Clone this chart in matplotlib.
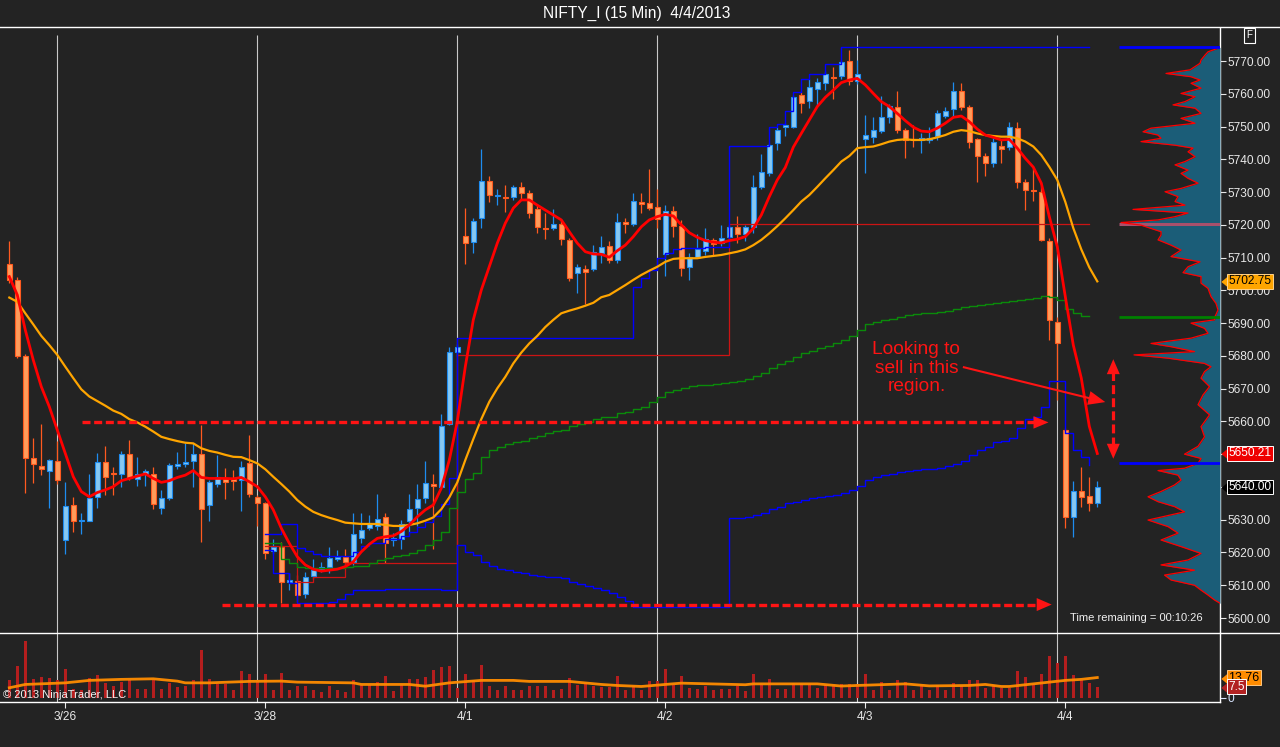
import numpy as np
import matplotlib
matplotlib.use("Agg")
import matplotlib.pyplot as plt
from matplotlib.patches import Polygon
from matplotlib.lines import Line2D
import matplotlib.transforms as mtransforms

plt.rcParams['font.family'] = ['Liberation Sans', 'DejaVu Sans']

# ------------------------------------------------------------------ data
opens = [5708.0, 5703.2, 5680.1, 5648.9, 5646.5, 5644.8, 5647.8, 5623.7, 5634.4, 5629.5,
 5629.7, 5636.8, 5647.5, 5644.2, 5643.8, 5650.0, 5642.3, 5644.0, 5644.1, 5633.5,
 5636.5, 5646.3, 5646.9, 5647.8, 5650.0, 5634.4, 5640.8, 5642.5, 5642.5, 5642.1,
 5647.2, 5637.0, 5635.0, 5620.6, 5621.8, 5611.0, 5611.3, 5607.2, 5612.8, 5614.9,
 5615.7, 5618.0, 5618.7, 5617.2, 5624.3, 5627.6, 5628.1, 5630.7, 5623.8, 5624.0,
 5629.7, 5633.7, 5636.5, 5640.8, 5640.1, 5659.1, 5681.1, 5716.6, 5714.7, 5722.0,
 5733.5, 5728.8, 5728.4, 5728.4, 5731.6, 5729.6, 5724.7, 5719.0, 5719.1, 5720.1,
 5715.4, 5705.2, 5706.4, 5706.4, 5711.3, 5713.6, 5709.3, 5721.0, 5720.2, 5727.1,
 5726.6, 5725.3, 5711.0, 5724.3, 5719.7, 5707.0, 5710.3, 5712.0, 5715.4, 5714.5,
 5716.2, 5719.2, 5717.2, 5719.4, 5731.6, 5735.9, 5744.9, 5750.0, 5750.0, 5759.5,
 5757.9, 5761.4, 5763.2, 5765.2, 5765.4, 5770.0, 5763.9, 5746.1, 5746.9, 5748.6,
 5752.8, 5756.1, 5748.9, 5746.3, 5745.9, 5745.9, 5747.1, 5753.3, 5755.3, 5760.8,
 5755.9, 5746.1, 5741.1, 5738.8, 5744.2, 5743.7, 5749.5, 5733.2, 5730.6, 5730.1,
 5715.1, 5690.3, 5657.4, 5630.9, 5638.8, 5637.2, 5635.0]
highs = [5715.1, 5704.0, 5680.5, 5654.8, 5659.1, 5648.5, 5654.0, 5641.4, 5637.0, 5632.0,
 5644.1, 5650.5, 5652.5, 5646.0, 5651.0, 5654.3, 5649.1, 5645.5, 5646.0, 5639.0,
 5647.2, 5650.8, 5653.5, 5653.5, 5658.9, 5642.0, 5649.8, 5645.7, 5645.2, 5648.0,
 5656.0, 5637.5, 5635.5, 5624.0, 5623.3, 5613.7, 5613.0, 5614.1, 5618.0, 5617.0,
 5621.8, 5620.8, 5621.0, 5632.2, 5632.0, 5631.5, 5637.7, 5632.0, 5626.0, 5630.0,
 5637.7, 5641.0, 5648.0, 5644.0, 5662.3, 5682.8, 5683.5, 5725.0, 5722.0, 5743.1,
 5734.9, 5731.0, 5732.2, 5732.2, 5733.2, 5730.6, 5726.0, 5723.5, 5724.7, 5721.5,
 5716.0, 5708.0, 5707.7, 5713.8, 5716.6, 5715.0, 5723.7, 5722.0, 5729.6, 5729.8,
 5737.0, 5730.8, 5726.0, 5725.7, 5721.5, 5711.5, 5717.2, 5718.9, 5716.0, 5720.0,
 5720.0, 5722.6, 5720.0, 5735.2, 5741.6, 5745.0, 5749.8, 5751.2, 5759.5, 5760.6,
 5764.4, 5764.9, 5767.0, 5768.1, 5770.3, 5773.4, 5770.3, 5753.5, 5752.8, 5759.3,
 5757.0, 5760.8, 5749.5, 5750.5, 5748.0, 5750.0, 5755.0, 5756.0, 5763.7, 5763.4,
 5756.5, 5746.5, 5742.0, 5746.4, 5746.0, 5751.5, 5751.5, 5734.0, 5737.2, 5732.0,
 5716.0, 5692.0, 5658.0, 5641.8, 5646.2, 5642.9, 5641.8]
lows = [5702.2, 5679.4, 5638.1, 5641.1, 5643.6, 5633.7, 5641.0, 5619.4, 5626.4, 5625.6,
 5629.5, 5633.7, 5637.5, 5637.5, 5639.9, 5642.0, 5640.3, 5640.3, 5633.4, 5631.7,
 5636.0, 5645.5, 5646.0, 5640.0, 5623.3, 5629.7, 5640.0, 5636.2, 5639.0, 5632.8,
 5637.0, 5628.0, 5618.0, 5619.5, 5604.7, 5608.5, 5605.0, 5606.2, 5612.0, 5614.0,
 5613.7, 5617.5, 5616.0, 5616.2, 5623.0, 5627.0, 5627.0, 5616.7, 5622.0, 5621.0,
 5626.0, 5628.0, 5635.0, 5621.0, 5640.0, 5659.0, 5680.0, 5708.0, 5711.5, 5719.1,
 5727.1, 5726.0, 5724.0, 5727.5, 5727.8, 5722.0, 5717.6, 5715.7, 5718.5, 5713.8,
 5702.9, 5699.1, 5695.8, 5706.0, 5708.3, 5708.3, 5708.3, 5717.4, 5719.5, 5723.5,
 5724.5, 5718.9, 5704.5, 5716.4, 5704.3, 5703.2, 5710.0, 5710.8, 5710.8, 5713.5,
 5715.0, 5714.4, 5715.0, 5717.6, 5731.0, 5735.0, 5742.8, 5747.1, 5749.5, 5754.2,
 5755.8, 5756.4, 5761.1, 5758.3, 5764.4, 5762.7, 5763.0, 5735.9, 5745.0, 5747.9,
 5751.0, 5748.0, 5740.5, 5743.8, 5742.0, 5745.0, 5746.0, 5752.5, 5752.8, 5755.0,
 5743.4, 5733.2, 5735.0, 5737.6, 5738.8, 5742.8, 5731.1, 5724.5, 5727.4, 5715.0,
 5684.8, 5666.5, 5627.4, 5624.8, 5633.8, 5632.8, 5634.0]
closes = [5703.2, 5680.1, 5648.7, 5646.9, 5645.4, 5648.1, 5642.1, 5634.1, 5629.5, 5629.9,
 5636.7, 5647.5, 5643.1, 5643.9, 5650.0, 5642.7, 5644.1, 5644.8, 5634.7, 5636.5,
 5646.6, 5646.9, 5647.7, 5650.0, 5633.2, 5641.4, 5642.9, 5641.5, 5641.7, 5646.0,
 5637.7, 5635.0, 5619.8, 5621.8, 5611.1, 5611.5, 5607.0, 5612.6, 5614.6, 5615.7,
 5618.2, 5618.7, 5617.2, 5625.5, 5626.9, 5628.9, 5630.1, 5622.8, 5624.5, 5628.6,
 5633.2, 5636.2, 5641.1, 5640.4, 5658.7, 5681.3, 5682.6, 5714.4, 5721.1, 5733.3,
 5729.0, 5729.1, 5728.1, 5731.6, 5729.6, 5723.5, 5719.2, 5718.6, 5720.1, 5715.6,
 5703.7, 5707.0, 5705.5, 5711.6, 5713.3, 5709.3, 5721.0, 5720.3, 5727.4, 5726.3,
 5725.0, 5721.7, 5724.3, 5719.6, 5706.7, 5710.3, 5712.6, 5715.6, 5714.1, 5716.1,
 5719.2, 5717.2, 5719.2, 5731.6, 5736.0, 5744.4, 5748.9, 5750.3, 5758.9, 5757.1,
 5762.2, 5763.5, 5765.9, 5764.9, 5769.8, 5764.0, 5766.0, 5747.4, 5748.9, 5752.8,
 5756.3, 5748.9, 5745.9, 5745.9, 5746.6, 5746.5, 5754.0, 5754.7, 5760.8, 5756.1,
 5745.4, 5741.0, 5738.8, 5745.2, 5743.2, 5750.0, 5733.2, 5730.6, 5730.2, 5715.4,
 5691.0, 5683.8, 5630.9, 5638.8, 5637.0, 5635.0, 5640.0]

ema_fast = [5704.2, 5698.6, 5687.9, 5678.7, 5670.6, 5664.5, 5657.4, 5650.3, 5643.1, 5638.6,
 5637.0, 5638.3, 5639.1, 5640.1, 5641.9, 5642.6, 5643.3, 5644.0, 5642.6, 5641.4,
 5641.9, 5642.9, 5643.6, 5645.0, 5642.9, 5642.6, 5642.6, 5642.6, 5642.5, 5642.9,
 5641.6, 5640.1, 5637.0, 5633.0, 5627.4, 5622.8, 5618.7, 5616.2, 5614.9, 5614.3,
 5614.6, 5614.9, 5615.7, 5617.2, 5620.2, 5622.5, 5624.3, 5624.8, 5625.1, 5626.4,
 5628.4, 5630.9, 5633.0, 5634.5, 5639.6, 5648.2, 5660.0, 5676.7, 5691.0, 5700.1,
 5707.2, 5714.4, 5720.5, 5725.1, 5727.6, 5727.6, 5726.0, 5724.5, 5723.0, 5721.5,
 5717.9, 5714.4, 5711.8, 5711.1, 5711.0, 5710.1, 5712.1, 5713.8, 5716.4, 5719.4,
 5721.5, 5722.5, 5723.2, 5722.7, 5720.0, 5717.6, 5716.2, 5715.2, 5714.7, 5714.5,
 5715.2, 5715.6, 5716.4, 5718.9, 5723.0, 5728.6, 5733.7, 5737.5, 5743.7, 5747.9,
 5752.0, 5756.1, 5758.9, 5761.1, 5763.4, 5764.2, 5764.7, 5762.7, 5760.1, 5757.6,
 5756.1, 5754.0, 5751.8, 5749.8, 5748.6, 5748.4, 5749.5, 5751.0, 5752.8, 5753.2,
 5751.5, 5749.2, 5747.4, 5746.7, 5745.9, 5746.1, 5743.4, 5740.3, 5737.6, 5732.7,
 5722.5, 5713.3, 5698.1, 5683.3, 5673.2, 5658.5, 5650.21]
ema_slow = [5697.8, 5696.5, 5693.0, 5689.6, 5686.1, 5683.3, 5680.3, 5676.7, 5673.2, 5669.8,
 5667.6, 5666.2, 5664.8, 5663.3, 5662.3, 5660.7, 5659.7, 5658.4, 5656.9, 5655.3,
 5654.6, 5654.0, 5653.5, 5653.3, 5651.8, 5651.0, 5650.5, 5649.8, 5649.2, 5649.1,
 5648.2, 5647.2, 5645.4, 5643.1, 5640.9, 5638.6, 5636.0, 5634.0, 5632.4, 5631.4,
 5630.6, 5629.9, 5629.1, 5628.9, 5628.7, 5628.7, 5628.7, 5628.4, 5628.1, 5628.1,
 5628.4, 5628.9, 5629.7, 5630.7, 5633.2, 5636.8, 5641.4, 5648.2, 5654.6, 5660.7,
 5666.0, 5670.1, 5673.6, 5677.7, 5681.0, 5683.8, 5686.1, 5688.8, 5691.0, 5693.0,
 5693.8, 5694.5, 5695.3, 5696.2, 5697.9, 5698.6, 5700.1, 5701.6, 5703.2, 5704.7,
 5706.0, 5707.2, 5708.7, 5709.6, 5709.8, 5709.8, 5709.8, 5710.2, 5710.5, 5710.8,
 5711.3, 5711.8, 5712.5, 5713.8, 5715.4, 5717.4, 5719.6, 5722.0, 5724.5, 5727.1,
 5729.1, 5731.6, 5734.2, 5736.7, 5739.3, 5741.0, 5743.4, 5743.7, 5743.9, 5744.6,
 5745.4, 5745.9, 5746.1, 5745.9, 5745.9, 5746.1, 5746.7, 5747.4, 5748.4, 5748.9,
 5748.6, 5747.9, 5747.4, 5747.1, 5746.9, 5746.9, 5746.4, 5745.4, 5743.9, 5741.3,
 5737.7, 5733.7, 5727.0, 5719.0, 5712.5, 5707.0, 5702.75]

# step indicators, first value belongs to bar 32
STEP_START = 32
vwap = [5622.8, 5622.8, 5617.9, 5616.7, 5615.5, 5615.2, 5615.2, 5615.2, 5615.3, 5615.4,
 5615.6, 5615.8, 5616.0, 5616.9, 5617.7, 5618.4, 5618.8, 5619.2, 5619.9, 5620.8,
 5622.3, 5623.8, 5626.3, 5633.5, 5638.6, 5642.3, 5644.2, 5649.1, 5651.3, 5652.2,
 5653.0, 5653.8, 5654.1, 5654.9, 5655.7, 5656.5, 5657.2, 5657.4, 5658.6, 5659.2,
 5659.9, 5660.6, 5661.2, 5661.2, 5662.5, 5662.8, 5663.7, 5664.3, 5665.8, 5667.4,
 5668.9, 5669.6, 5670.1, 5670.8, 5671.0, 5671.2, 5671.3, 5671.8, 5672.1, 5672.4,
 5672.9, 5673.9, 5674.7, 5676.2, 5677.5, 5678.4, 5679.8, 5680.8, 5681.6, 5682.3,
 5683.0, 5683.8, 5684.8, 5686.2, 5687.8, 5689.7, 5690.3, 5691.0, 5691.4, 5692.0,
 5692.4, 5692.8, 5693.0, 5693.2, 5693.4, 5693.8, 5694.4, 5694.8, 5695.2, 5695.5,
 5695.8, 5696.0, 5696.3, 5696.7, 5697.1, 5697.5, 5697.8, 5698.3, 5698.1, 5697.1,
 5694.2, 5693.2, 5692.2]
upper_band = ([5625.6, 5625.6, 5628.7, 5628.7, 5621.5, 5620.4, 5619.5, 5618.9, 5618.9, 5618.9,
 5618.9, 5620.2, 5622.0, 5622.8, 5622.8, 5624.0, 5624.0, 5625.1, 5626.4, 5627.9,
 5629.3, 5631.0, 5634.8, 5642.6]
 + [5685.4] * 22
 + [5700.9, 5703.7, 5706.2, 5709.8, 5711.3, 5712.5, 5712.8, 5712.8, 5712.8, 5713.3, 5713.3, 5713.3]
 + [5744.1] * 5
 + [5749.8, 5750.8, 5754.7, 5760.6, 5764.4, 5766.0, 5766.0, 5769.1, 5769.1]
 + [5774.2] * 31)
lower_band = ([5620.8, 5613.6, 5613.6, 5610.6, 5604.5, 5604.5, 5604.5, 5604.5, 5604.9, 5605.7,
 5607.3, 5608.5, 5608.5, 5608.5, 5608.5, 5609.0, 5609.0, 5609.0, 5609.0, 5609.0,
 5609.0, 5609.0, 5608.5, 5608.5,
 5622.3, 5620.2, 5619.2, 5617.2, 5615.9, 5614.9, 5614.7, 5614.1, 5613.6, 5613.1,
 5612.8, 5612.6, 5612.6, 5612.1, 5611.1, 5610.4, 5609.8, 5609.3, 5608.5, 5607.7,
 5606.3, 5605.3]
 + [5603.4] * 12
 + [5630.4, 5630.4, 5630.9, 5631.4, 5632.1, 5633.2, 5634.0, 5635.0, 5635.5, 5636.0,
 5636.5, 5636.8, 5637.2, 5637.5, 5638.2, 5639.2, 5640.4, 5642.1, 5642.9, 5643.5,
 5643.9, 5644.6, 5644.9, 5645.2, 5645.5, 5645.5, 5645.9, 5646.4, 5647.0, 5648.0,
 5649.7, 5651.2, 5652.3, 5653.6, 5654.0, 5654.8, 5657.9, 5660.6, 5661.3, 5664.3,
 5672.3, 5672.3, 5656.4, 5651.3, 5649.2, 5646.7])
prior_level = ([5621.9] * 4 + [5611.1] * 2 + [5612.6] * 4 + [5616.7] * 14
               + [5680.3] * 34 + [5720.1] * 45)

volume = [11.8, 21.5, 38.9, 12.5, 13.9, 13.4, 12.0, 19.9, 6.0, 5.3,
 13.7, 15.2, 10.0, 7.7, 10.7, 11.9, 6.0, 6.0, 12.3, 6.0,
 10.0, 7.2, 7.7, 11.9, 32.6, 13.0, 9.5, 9.0, 5.3, 18.0,
 16.4, 12.0, 16.0, 5.3, 16.7, 4.9, 7.7, 7.7, 5.3, 3.5,
 7.7, 5.3, 3.5, 11.9, 8.3, 8.3, 10.7, 14.6, 4.4, 8.3,
 12.5, 12.5, 13.9, 18.7, 21.1, 21.5, 6.5, 16.2, 11.9, 22.3,
 7.7, 4.9, 7.7, 4.9, 4.9, 7.7, 7.7, 7.7, 5.3, 6.0,
 13.7, 8.3, 10.0, 7.7, 7.2, 7.2, 14.6, 4.9, 7.7, 5.3,
 11.1, 11.1, 19.4, 8.3, 14.6, 6.7, 6.0, 7.7, 4.9, 5.7,
 6.2, 7.7, 4.2, 16.0, 8.3, 12.5, 6.0, 6.0, 10.0, 9.5,
 9.5, 6.7, 8.3, 8.3, 9.0, 9.5, 9.5, 16.0, 5.3, 10.7,
 5.3, 11.9, 10.7, 4.9, 8.3, 4.9, 8.3, 4.9, 10.0, 7.7,
 11.9, 11.9, 6.7, 8.3, 6.7, 6.7, 18.0, 13.9, 9.5, 16.0,
 28.5, 23.8, 28.5, 15.2, 11.9, 10.0, 7.5]
vol_ma_bar = [0, 2, 7, 10, 14, 18, 21, 22, 25, 30, 34, 36, 43, 44, 50, 52, 55, 59, 63, 65,
              70, 74, 76, 79, 82, 84, 92, 93, 101, 104, 106, 112, 115, 120, 122, 124, 125,
              128, 132, 134, 136]
vol_ma = [6.7, 9.0, 10.1, 11.8, 12.5, 12.9, 11.3, 10.1, 10.1, 11.1, 11.3, 10.6, 10.1, 9.0,
          9.0, 7.8, 10.1, 11.8, 11.8, 11.1, 11.1, 9.0, 8.3, 7.6, 9.0, 9.9, 8.8, 9.4, 9.4,
          7.9, 8.3, 9.4, 8.0, 8.3, 9.0, 7.6, 7.6, 9.4, 11.8, 12.5, 13.76]

prof_price = [5774.2, 5773.9, 5772.8, 5771.8, 5770.3, 5769.3, 5768.3, 5767.3, 5766.2, 5765.2,
 5764.2, 5763.2, 5761.7, 5760.1, 5759.1, 5757.6, 5756.6, 5755.6, 5754.0, 5752.5,
 5751.0, 5749.5, 5748.4, 5747.4, 5746.4, 5745.4, 5744.3, 5743.4, 5742.3, 5740.8,
 5739.3, 5738.3, 5736.7, 5735.7, 5734.2, 5732.7, 5731.1, 5730.1, 5728.6, 5727.1,
 5726.0, 5724.7, 5723.6, 5722.5, 5721.5, 5720.7, 5719.9, 5718.9, 5717.9, 5716.9,
 5715.4, 5713.8, 5712.3, 5710.3, 5708.7, 5707.2, 5705.4, 5704.2, 5702.2, 5700.6,
 5698.1, 5696.0, 5694.0, 5692.0, 5691.0, 5690.0, 5688.4, 5686.9, 5685.4, 5683.8,
 5682.8, 5681.3, 5680.3, 5679.3, 5677.7, 5676.7, 5675.2, 5673.2, 5670.6, 5668.1,
 5665.1, 5662.0, 5658.4, 5655.3, 5652.4, 5650.0, 5648.7, 5647.2, 5645.7, 5645.0,
 5643.6, 5642.1, 5640.6, 5638.6, 5637.0, 5635.5, 5634.0, 5632.4, 5629.9, 5627.9,
 5625.9, 5623.8, 5621.8, 5619.7, 5617.7, 5616.2, 5614.6, 5613.1, 5611.6, 5610.0,
 5608.5, 5607.0, 5605.5, 5604.5]
prof_vol = [0, 2, 12, 15, 19, 20, 25, 30, 54, 29,
 20, 29, 19, 39, 25, 35, 47, 25, 19, 39,
 25, 69, 77, 62, 59, 79, 45, 27, 32, 25,
 35, 45, 32, 39, 32, 22, 39, 55, 42, 45,
 35, 87, 32, 45, 62, 99, 79, 69, 59, 59,
 62, 49, 39, 49, 20, 32, 37, 19, 19, 12,
 9, 4, 2, 5, 5.5, 29, 15.5, 12, 29, 69,
 49, 25.5, 86, 52, 15.5, 9, 15.5, 19, 10.5, 17,
 22, 10.5, 19, 15.5, 22, 35.5, 19, 22, 35.5, 62,
 42, 39, 45.5, 59, 72, 62, 45.5, 35.5, 72, 52,
 42, 59, 39, 19, 32, 59, 25.5, 55.5, 49, 25.5,
 19, 12, 5.5, 0]
profile_levels = [5774.2, 5720.4, 5691.8, 5647.2]
profile_level_colors = ['#0000ff', '#a8506c', '#008000', '#0000ff']

day_break_bars = [6, 31, 56, 81, 106, 131]
day_tick_bars = [7, 32, 57, 82, 107, 132]
day_labels = ['3/26', '3/28', '4/1', '4/2', '4/3', '4/4']
price_ticks = list(range(5600, 5771, 10))

last_close = 5640.00
last_fast = 5650.21
last_slow = 5702.75
last_volume = 7.5
last_vol_ma = 13.76

# annotations (bar index, price)
ARROW_UPPER = ((9.1, 5659.7), (129.9, 5659.7))
ARROW_LOWER = ((26.6, 5604.1), (130.3, 5604.1))
ARROW_DIAG = ((119.2, 5676.6), (137.0, 5665.9))
ARROW_VERT = ((138.0, 5648.6), (138.0, 5679.0))
NOTE_POS = (113.4, 5676.3)

# ------------------------------------------------------------------ layout
W, H = 1280, 747
X0, BAR_PX = 9.3, 8.0
Y_REF, P_REF, PX_PER_PT = 61.0, 5770.0, 3.2765
PANEL_TOP, PANEL_SPLIT, PANEL_BOTTOM, AXIS_X = 27.5, 633.4, 701.6, 1220.0
VOL_ZERO_PX, VOL_PX = 697.5, 1.45
PROFILE_LEFT_PX = 1118.5

def px2k(px):
    return (px - X0) / BAR_PX

def py2p(py):
    return P_REF - (py - Y_REF) / PX_PER_PT

def to_px(k, p):
    return X0 + k * BAR_PX, Y_REF + (P_REF - p) * PX_PER_PT

BG = '#232323'
FG = '#e8e8e8'
RED = '#ff1414'
UP_FILL, UP_EDGE = '#86c8f2', '#1e8cf0'
DN_FILL, DN_EDGE = '#ff9c5b', '#ff5a1f'

fig = plt.figure(figsize=(W / 100, H / 100), dpi=100, facecolor=BG)
ax = fig.add_axes([0, 1 - PANEL_SPLIT / H, AXIS_X / W, (PANEL_SPLIT - PANEL_TOP) / H])
axv = fig.add_axes([0, 1 - PANEL_BOTTOM / H, AXIS_X / W, (PANEL_BOTTOM - PANEL_SPLIT) / H])
for a in (ax, axv):
    a.set_facecolor(BG)
    a.set_xlim(px2k(0), px2k(AXIS_X))
    for s in a.spines.values():
        s.set_color('white')
        s.set_linewidth(1.0)
    a.spines['left'].set_visible(False)
    a.spines['top'].set_visible(False)
ax.spines['bottom'].set_visible(False)
ax.set_ylim(py2p(PANEL_SPLIT), py2p(PANEL_TOP))
axv.set_ylim(-(PANEL_BOTTOM - VOL_ZERO_PX) / VOL_PX, (VOL_ZERO_PX - PANEL_SPLIT) / VOL_PX)

# frame lines across full width
for ypx in (27.3, PANEL_SPLIT):
    fig.add_artist(Line2D([0, 1], [1 - ypx / H] * 2, color='white', lw=1.0,
                          transform=fig.transFigure))

# day separators
ax.vlines(day_break_bars, py2p(PANEL_SPLIT), py2p(35), colors='#c8c8c8', lw=0.8, zorder=1)
axv.vlines(day_break_bars, *axv.get_ylim(), colors='#c8c8c8', lw=0.8, zorder=1)

# candles
o = np.array(opens); h = np.array(highs); l = np.array(lows); c = np.array(closes)
idx = np.arange(len(o))
up = c >= o
lo_b = np.minimum(o, c)
hb = np.maximum(np.abs(c - o), 0.35)
ax.vlines(idx, l, h, colors=np.where(up, UP_EDGE, DN_EDGE), lw=0.9, zorder=3)
ax.bar(idx[up], hb[up], bottom=lo_b[up], width=0.62, color=UP_FILL,
       edgecolor=UP_EDGE, linewidth=0.8, zorder=4)
ax.bar(idx[~up], hb[~up], bottom=lo_b[~up], width=0.62, color=DN_FILL,
       edgecolor=DN_EDGE, linewidth=0.8, zorder=4)

# step indicators
def step(a, start, vals, extend, **kw):
    x = list(range(start, start + len(vals)))
    y = list(vals)
    if extend:
        x.append(x[-1] + 1)
        y.append(y[-1])
    a.plot(x, y, drawstyle='steps-post', **kw)

step(ax, STEP_START, prior_level, True, color='#cc1414', lw=0.9, zorder=5)
step(ax, STEP_START, vwap, True, color='#0a8a0a', lw=1.0, zorder=5)
step(ax, STEP_START, upper_band, True, color='#0000ff', lw=1.0, zorder=5)
step(ax, STEP_START, lower_band, False, color='#0000ff', lw=1.0, zorder=5)

# moving averages
ax.plot(idx, ema_slow, color='#ffa500', lw=1.6, zorder=6)
ax.plot(idx, ema_fast, color='#ff0000', lw=2.0, zorder=7)

# volume
axv.bar(idx, volume, width=0.4, color='#b41e1e', zorder=3)
axv.plot(vol_ma_bar, vol_ma, color='#ff8c00', lw=2.0, alpha=0.95, zorder=4)

# volume profile (twin x axis measured in pixels from price axis)
axp = ax.twiny()
axp.set_xlim(AXIS_X, 0)
axp.axis('off')
axp.fill_betweenx(prof_price, 0, prof_vol, color='#1b5d78', lw=0, zorder=1)
axp.hlines(profile_levels[1], 0, AXIS_X - PROFILE_LEFT_PX, colors=profile_level_colors[1],
           lw=2.2, zorder=2)
axp.plot(prof_vol, prof_price, color='#ff0000', lw=0.9, zorder=3)
for lev, col in zip(profile_levels, profile_level_colors):
    if col == profile_level_colors[1]:
        continue
    axp.hlines(lev, 0, AXIS_X - PROFILE_LEFT_PX, colors=col, lw=2.0, zorder=4)

# arrows / annotation
def head(tip_px, u, length, width):
    perp = np.array([-u[1], u[0]])
    base = np.array(tip_px) - u * length
    pts = [tip_px, base + perp * width / 2, base - perp * width / 2]
    verts = [(px2k(x), py2p(y)) for x, y in pts]
    ax.add_patch(Polygon(verts, closed=True, color=RED, lw=0, zorder=20))

def arrow(start, end, dashed, both=False, length=15, width=12.5, lw=2.4, dash=(2.4, 1.1)):
    s = np.array(to_px(*start)); e = np.array(to_px(*end))
    u = (e - s) / np.hypot(*(e - s))
    e_sh = e - u * length * 0.85
    s_sh = s + u * length * 0.85 if both else s
    xs = [px2k(s_sh[0]), px2k(e_sh[0])]
    ys = [py2p(s_sh[1]), py2p(e_sh[1])]
    ax.plot(xs, ys, color=RED, lw=lw, ls=(0, dash) if dashed else '-',
            solid_capstyle='butt', dash_capstyle='butt', zorder=19)
    head(e, u, length, width)
    if both:
        head(s, -u, length, width)

arrow(*ARROW_UPPER, dashed=True, length=15, width=12.5)
arrow(*ARROW_LOWER, dashed=True, length=15, width=13)
arrow(*ARROW_DIAG, dashed=False, length=17, width=14, lw=1.5)
arrow(*ARROW_VERT, dashed=True, both=True, length=15, width=13, lw=2.3, dash=(2.8, 1.3))

ax.text(NOTE_POS[0], NOTE_POS[1], 'Looking to\nsell in this\nregion.', color=RED,
        fontsize=13.8, ha='center', va='center', linespacing=1.08, zorder=21)

# axes ticks
ax.yaxis.tick_right()
ax.set_yticks(price_ticks)
ax.set_yticklabels([f'{t:.2f}' for t in price_ticks])
ax.tick_params(axis='y', colors=FG, labelsize=8.6, length=4, width=0.8, pad=1.5)
ax.tick_params(axis='x', bottom=False, labelbottom=False)
axv.set_xticks(day_tick_bars)
axv.set_xticklabels(day_labels)
axv.tick_params(axis='x', colors=FG, labelsize=8.6, length=4.5, width=0.8, pad=2)
axv.yaxis.tick_right()
axv.set_yticks([0])
axv.set_yticklabels(['0'])
axv.tick_params(axis='y', colors='#d8e4ff', labelsize=8.6, length=4, width=0.8, pad=1.5)

# value tags at right edge
tag_marker = [(-0.6, 0), (0.6, -1), (0.6, 1)]
def tag(a, value, text, fc, tc, ec, size=8.6):
    a.annotate(text, xy=(1, value), xycoords=('axes fraction', 'data'),
               xytext=(6, 0), textcoords='offset points', ha='left', va='center',
               fontsize=size, color=tc, annotation_clip=False, zorder=30,
               bbox=dict(boxstyle='square,pad=0.1', fc=fc, ec=ec, lw=0.7))
    tr = mtransforms.offset_copy(a.get_yaxis_transform(), fig=fig, x=4.6, y=0, units='dots')
    a.plot([1], [value], marker=tag_marker, ms=8.6, color=fc, transform=tr,
           clip_on=False, zorder=29)

tag(ax, last_slow, f'{last_slow:.2f}', '#ffa500', 'black', '#ffd28a')
tag(ax, last_fast, f'{last_fast:.2f}', '#ee0000', 'white', 'white')
tag(ax, last_close, f'{last_close:.2f}', 'black', 'white', 'white')
tag(axv, last_vol_ma, f'{last_vol_ma:.2f}', '#ff8c00', 'black', '#ffc680', size=9)
tag(axv, last_volume, f'{last_volume:.1f}', '#b22222', 'white', 'white', size=8.6)

# texts
fig.text(637 / W, 1 - 13.5 / H, 'NIFTY_I (15 Min)  4/4/2013', ha='center', va='center',
         fontsize=11.2, color='white')
fig.text(1249.5 / W, 1 - 35.5 / H, 'F', ha='center', va='center', fontsize=7, color='white',
         bbox=dict(boxstyle='square,pad=0.25', fc='none', ec='white', lw=0.8))
fig.text(1070 / W, 1 - 618 / H, 'Time remaining = 00:10:26', ha='left', va='center',
         fontsize=8, color='#f0f0f0')
fig.text(3 / W, 1 - 694.5 / H, '\u00a9 2013 NinjaTrader, LLC', ha='left', va='center',
         fontsize=8, color='#f0f0f0', zorder=10)

fig.savefig('out.png', dpi=100, facecolor=BG)
